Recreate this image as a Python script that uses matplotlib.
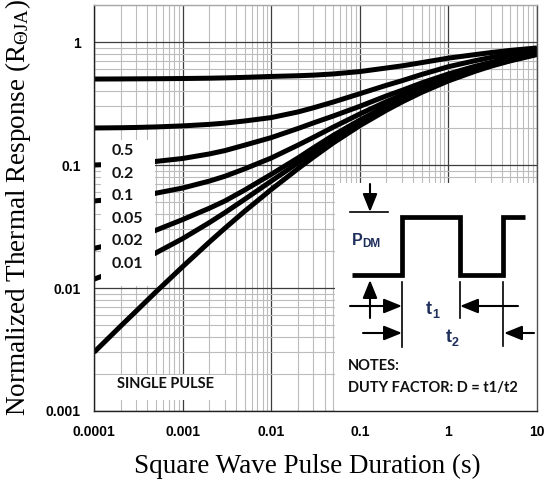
import matplotlib
matplotlib.use('Agg')
import matplotlib.pyplot as plt
from matplotlib.patches import Rectangle
from matplotlib.ticker import LogLocator, FixedLocator, FixedFormatter, NullFormatter

plt.rcParams['mathtext.fontset'] = 'custom'
plt.rcParams['mathtext.rm'] = 'Liberation Serif'
plt.rcParams['mathtext.it'] = 'Liberation Serif:italic'

# pulse duration (s)
pulse_time = [1e-4, 2e-4, 3e-4, 5e-4, 1e-3, 2e-3, 3e-3, 5e-3, 1e-2, 2e-2, 3e-2,
              5e-2, 0.1, 0.2, 0.3, 0.5, 1, 2, 3, 5, 10]

# normalized thermal response for each duty factor
resp_d050 = [0.500, 0.501, 0.502, 0.503, 0.505, 0.508, 0.511, 0.516, 0.525, 0.532, 0.538,
             0.55, 0.575, 0.615, 0.64, 0.68, 0.74, 0.79, 0.82, 0.855, 0.895]
resp_d020 = [0.200, 0.201, 0.202, 0.204, 0.208, 0.214, 0.219, 0.228, 0.243, 0.27, 0.292,
             0.325, 0.38, 0.445, 0.485, 0.545, 0.63, 0.705, 0.748, 0.80, 0.865]
resp_d010 = [0.100, 0.102, 0.104, 0.107, 0.113, 0.123, 0.131, 0.145, 0.167, 0.198, 0.22,
             0.25, 0.30, 0.365, 0.405, 0.465, 0.55, 0.635, 0.682, 0.745, 0.825]
resp_d005 = [0.051, 0.0535, 0.0555, 0.059, 0.065, 0.074, 0.081, 0.093, 0.114, 0.145, 0.168,
             0.203, 0.26, 0.328, 0.372, 0.435, 0.525, 0.612, 0.662, 0.728, 0.812]
resp_d002 = [0.021, 0.0235, 0.0255, 0.0295, 0.036, 0.0445, 0.051, 0.0625, 0.084, 0.114, 0.138,
             0.174, 0.232, 0.302, 0.348, 0.412, 0.505, 0.597, 0.652, 0.718, 0.803]
resp_d001 = [0.0118, 0.0142, 0.016, 0.0193, 0.0252, 0.034, 0.041, 0.0525, 0.074, 0.104, 0.127,
             0.162, 0.22, 0.29, 0.337, 0.40, 0.493, 0.587, 0.643, 0.71, 0.797]
resp_single = [0.0030, 0.0049, 0.0065, 0.0093, 0.0149, 0.0236, 0.0306, 0.042, 0.0632, 0.0932,
               0.116, 0.151, 0.209, 0.279, 0.326, 0.39, 0.483, 0.578, 0.635, 0.703, 0.791]

duty_labels = ['0.5', '0.2', '0.1', '0.05', '0.02', '0.01']

x_ticks = [1e-4, 1e-3, 1e-2, 1e-1, 1, 10]
x_tick_labels = ['0.0001', '0.001', '0.01', '0.1', '1', '10']
y_ticks = [0.001, 0.01, 0.1, 1]
y_tick_labels = ['0.001', '0.01', '0.1', '1']

W, H = 544, 484
fig = plt.figure(figsize=(W / 100, H / 100), dpi=100)
# axes box in pixels: left 94, right 537, top 5, bottom 411
ax = fig.add_axes([94 / W, 1 - 411 / H, 443 / W, 406 / H])

ax.set_xscale('log')
ax.set_yscale('log')
ax.set_xlim(1e-4, 10)
ax.set_ylim(1e-3, 2.0)

for curve in [resp_d050, resp_d020, resp_d010, resp_d005, resp_d002, resp_d001, resp_single]:
    ax.plot(pulse_time, curve, color='black', lw=3.6, solid_capstyle='butt',
            solid_joinstyle='round', zorder=2)

# grid
ax.xaxis.set_major_locator(FixedLocator(x_ticks))
ax.xaxis.set_major_formatter(FixedFormatter(x_tick_labels))
ax.yaxis.set_major_locator(FixedLocator(y_ticks))
ax.yaxis.set_major_formatter(FixedFormatter(y_tick_labels))
ax.xaxis.set_minor_locator(LogLocator(base=10, subs=range(2, 10), numticks=30))
ax.yaxis.set_minor_locator(LogLocator(base=10, subs=range(2, 10), numticks=30))
ax.xaxis.set_minor_formatter(NullFormatter())
ax.yaxis.set_minor_formatter(NullFormatter())
ax.set_axisbelow(True)
ax.grid(which='major', color='#3c3c3c', lw=0.9)
ax.grid(which='minor', color='#bcbcbc', lw=0.8)

ax.tick_params(which='both', length=0)
ax.tick_params(axis='x', pad=10)
ax.tick_params(axis='y', pad=9.4)
for lab in ax.get_xticklabels() + ax.get_yticklabels():
    lab.set_fontfamily('Liberation Sans')
    lab.set_fontweight('bold')
    lab.set_fontsize(10)

ax.spines['top'].set_color('#a8a8a8')
ax.spines['right'].set_color('#505050')
ax.spines['left'].set_color('#202020')
ax.spines['bottom'].set_color('#202020')
for sp in ax.spines.values():
    sp.set_linewidth(1.0)


def px_box(x0, y0, x1, y1):
    # pixel box -> axes fraction rectangle
    return Rectangle(((x0 - 94) / 443, (411 - y1) / 406), (x1 - x0) / 443, (y1 - y0) / 406,
                     transform=ax.transAxes, facecolor='white', edgecolor='none', zorder=2.2)


ax.add_patch(px_box(101, 140, 155, 286))   # duty factor labels
ax.add_patch(px_box(115, 375, 227, 400))   # single pulse label
ax.add_patch(px_box(335, 183, 537, 411))   # notes / waveform inset

# overlay in pixel coordinates for annotations
ov = fig.add_axes([0, 0, 1, 1], zorder=5)
ov.set_xlim(0, W)
ov.set_ylim(H, 0)
ov.axis('off')

lab_font = dict(family='Lato', fontweight='bold', color='#111111')
for i, lab in enumerate(duty_labels):
    ov.text(112, 151 + i * 22.6, lab, fontsize=11.5, ha='left', va='center', **lab_font)

ov.text(117, 384, 'SINGLE PULSE', fontsize=10.5, ha='left', va='center', **lab_font)
ov.text(348, 366, 'NOTES:', fontsize=10.5, ha='left', va='center', **lab_font)
ov.text(348, 388, 'DUTY FACTOR: D = t1/t2', fontsize=10.5, ha='left', va='center', **lab_font)

# square wave
ov.plot([352, 402, 402, 460, 460, 503, 503, 525], [275, 275, 217, 217, 275, 275, 217, 217],
        color='black', lw=3.4, solid_joinstyle='miter', solid_capstyle='butt')

arrow_kw = dict(arrowstyle='-|>,head_length=0.42,head_width=0.17', color='black',
                lw=1.5, mutation_scale=26, shrinkA=0, shrinkB=0)


def arrow(x0, y0, x1, y1):
    ov.annotate('', xy=(x1, y1), xytext=(x0, y0), arrowprops=arrow_kw)


arrow(370, 184, 370, 212)
ov.plot([350, 388], [212, 212], color='black', lw=1.2)
arrow(370, 318, 370, 280)
arrow(350, 306, 402, 306)
arrow(518, 306, 460, 306)
arrow(363, 333, 402, 333)
arrow(534, 333, 504, 333)
ov.plot([402, 402], [282, 347], color='black', lw=1.2)
ov.plot([460, 460], [282, 318], color='black', lw=1.2)
ov.plot([503, 503], [282, 346], color='black', lw=1.2)

navy = '#1f2f5c'
ov.text(352, 245, 'P', fontsize=11.5, family='Liberation Sans', fontweight='bold',
        color=navy, ha='left', va='baseline')
ov.text(362.5, 247, 'DM', fontsize=8.5, family='Liberation Sans', fontweight='bold',
        color=navy, ha='left', va='baseline')
ov.text(426, 314, 't', fontsize=13, family='Liberation Sans', fontweight='bold',
        color=navy, ha='left', va='baseline')
ov.text(432, 318, '1', fontsize=9, family='Liberation Sans', fontweight='bold',
        color=navy, ha='left', va='baseline')
ov.text(446, 342, 't', fontsize=13, family='Liberation Sans', fontweight='bold',
        color=navy, ha='left', va='baseline')
ov.text(452, 346, '2', fontsize=9, family='Liberation Sans', fontweight='bold',
        color=navy, ha='left', va='baseline')

# axis titles
ov.text(307, 473, 'Square Wave Pulse Duration (s)', fontsize=19.5,
        family='Liberation Serif', ha='center', va='baseline')
ov.text(18, 208, r'Normalized Thermal Response (R$_{\mathrm{\Theta JA}}$)', fontsize=19.5,
        family='Liberation Serif', rotation=90, ha='center', va='center')

fig.savefig('out.png', dpi=100)
